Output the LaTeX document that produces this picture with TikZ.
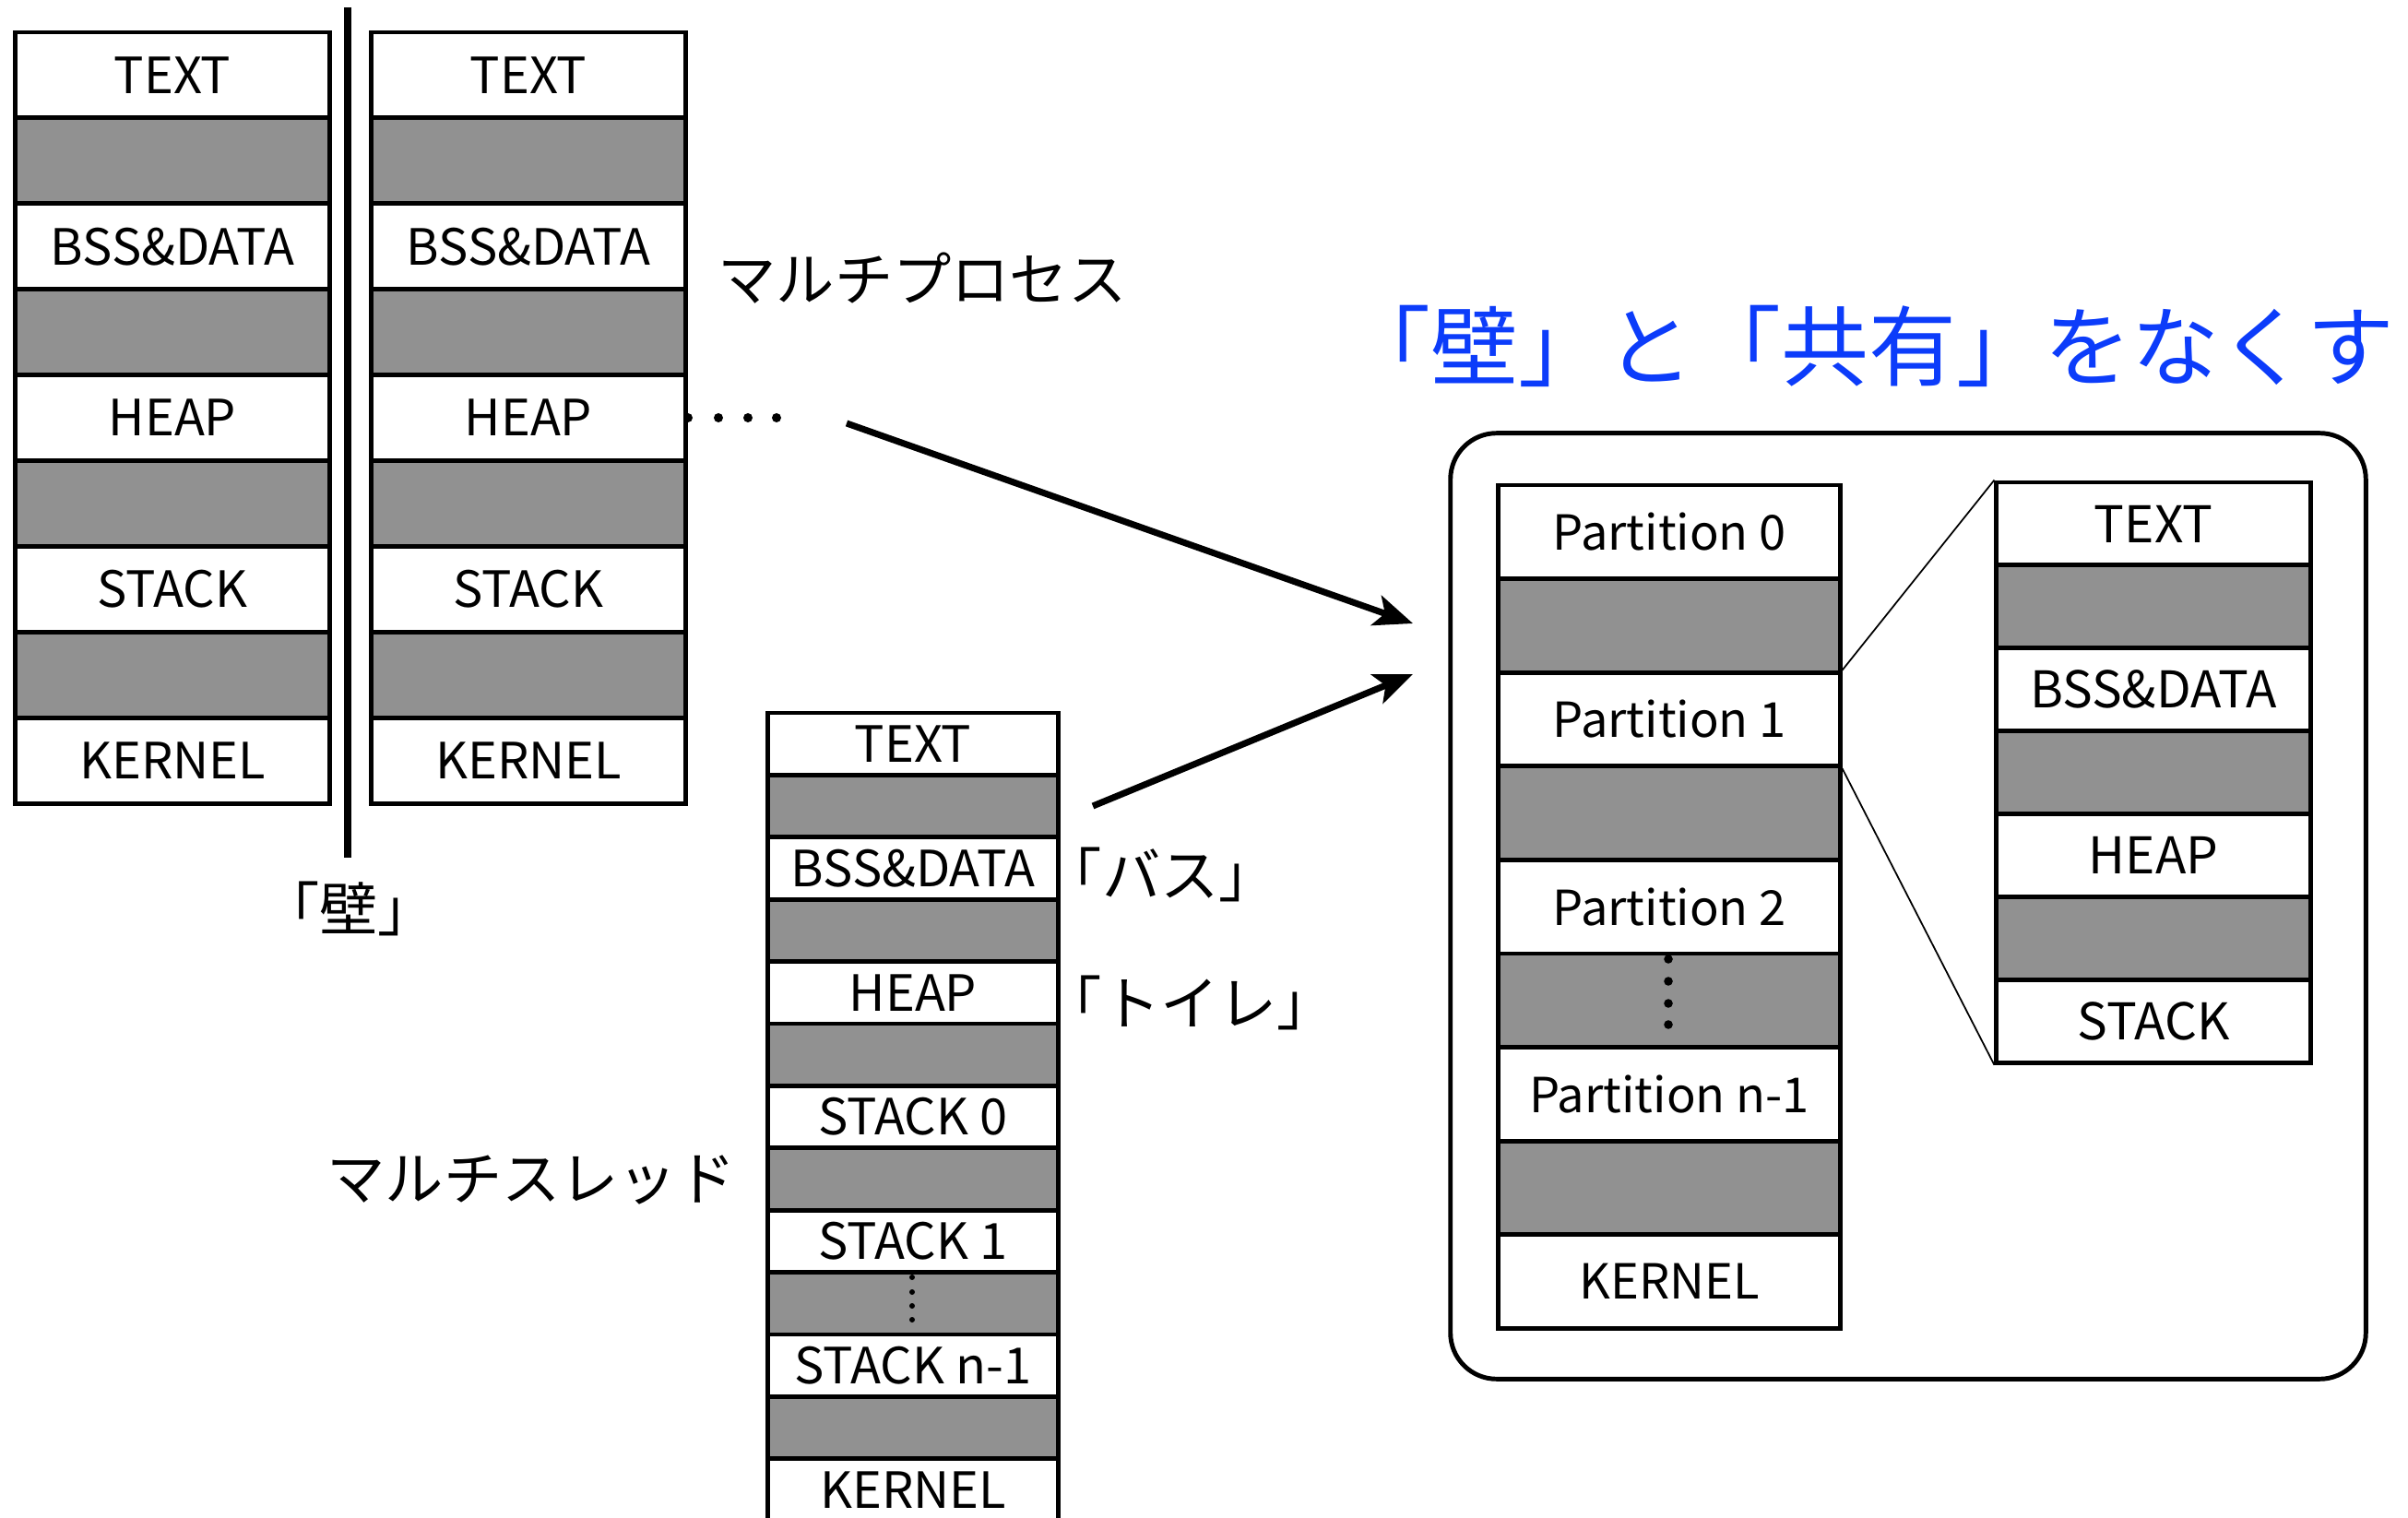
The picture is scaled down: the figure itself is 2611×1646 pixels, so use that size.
\documentclass[tikz,border=0pt]{standalone}
\usepackage{fontspec}
\setmainfont{Noto Sans CJK JP}
\usetikzlibrary{arrows.meta}
\definecolor{cgray}{RGB}{145,145,145}
\definecolor{cblue}{RGB}{12,60,250}
\begin{document}
\begin{tikzpicture}[x=0.01cm,y=-0.01cm,
  cell/.style={draw, line width=1.4pt, inner sep=0pt, anchor=center},
  lblfont/.style={font=\fontsize{18}{20}\selectfont},
  conn/.style={line width=2pt, -{Stealth[length=0.42cm,width=0.34cm,inset=0.1cm]}},
  zoomline/.style={line width=0.5pt},
  dotmark/.style={fill=black}]
\useasboundingbox (0,0) rectangle (2611,1646);

% outer rounded frame
\node[draw, line width=1.4pt, rounded corners=0.5cm, minimum width=9.92cm, minimum height=10.25cm, inner sep=0pt] (frame) at (2069,982.5) {};

% left stack 1
\foreach \lab [count=\i] in {TEXT,{},BSS\&DATA,{},HEAP,{},STACK,{},KERNEL}{
  \pgfmathsetmacro\yy{35+92.9*(\i-0.5)}
  \ifodd\i \def\ff{white}\else\def\ff{cgray}\fi
  \node[cell, fill=\ff, minimum width=3.4cm, minimum height=0.929cm, font=\fontsize{15.4}{17}\selectfont] (A\i) at (187,\yy) {\lab};
}
% left stack 2
\foreach \lab [count=\i] in {TEXT,{},BSS\&DATA,{},HEAP,{},STACK,{},KERNEL}{
  \pgfmathsetmacro\yy{35+92.9*(\i-0.5)}
  \ifodd\i \def\ff{white}\else\def\ff{cgray}\fi
  \node[cell, fill=\ff, minimum width=3.41cm, minimum height=0.929cm, font=\fontsize{15.4}{17}\selectfont] (B\i) at (573,\yy) {\lab};
}
% wall
\coordinate (wallTop) at (377,8);
\coordinate (wallBot) at (377,930);
\draw[line width=2.3pt] (wallTop) -- (wallBot);
\node[lblfont, inner sep=0pt] (wallLbl) at (378,985) {「壁」};

% dots after HEAP
\foreach \x in {746,779,811,842}{\fill[dotmark] (\x,453) circle (5);}

\node[lblfont, inner sep=0pt] (mproc) at (1000,302) {マルチプロセス};

% middle stack
\foreach \lab [count=\i] in {TEXT,{},BSS\&DATA,{},HEAP,{},STACK 0,{},STACK 1,{},STACK n-1,{},KERNEL}{
  \pgfmathsetmacro\yy{773+67.4*(\i-0.5)}
  \ifodd\i \def\ff{white}\else\def\ff{cgray}\fi
  \node[cell, fill=\ff, minimum width=3.14cm, minimum height=0.674cm, font=\fontsize{15.4}{17}\selectfont] (M\i) at (990,\yy) {\lab};
}
\foreach \y in {1385,1401,1416,1431}{\fill[dotmark] (989,\y) circle (3);}

\node[lblfont, inner sep=0pt, anchor=west] (bus) at (1131,948) {「バス」};
\node[lblfont, inner sep=0pt, anchor=west] (toilet) at (1131,1087) {「トイレ」};
\node[lblfont, inner sep=0pt] (mthr) at (576,1279) {マルチスレッド};

% title
\node[font=\fontsize{27}{30}\selectfont, text=cblue, inner sep=0pt, anchor=west] (title) at (1456,375) {「壁」と「共有」をなくす};

% partition stack
\foreach \lab [count=\i] in {Partition 0,{},Partition 1,{},Partition 2,{},Partition n-1,{},KERNEL}{
  \pgfmathsetmacro\yy{526+101.6*(\i-0.5)}
  \ifodd\i \def\ff{white}\else\def\ff{cgray}\fi
  \node[cell, fill=\ff, minimum width=3.7cm, minimum height=1.016cm, font=\fontsize{14.9}{17}\selectfont] (P\i) at (1810,\yy) {\lab};
}
\foreach \y in {1040,1064,1088,1111}{\fill[dotmark] (1809,\y) circle (4.8);}

% right zoomed stack
\foreach \lab [count=\i] in {TEXT,{},BSS\&DATA,{},HEAP,{},STACK}{
  \pgfmathsetmacro\yy{523+89.9*(\i-0.5)}
  \ifodd\i \def\ff{white}\else\def\ff{cgray}\fi
  \node[cell, fill=\ff, minimum width=3.4cm, minimum height=0.899cm, font=\fontsize{15.6}{17}\selectfont] (R\i) at (2335,\yy) {\lab};
}

% zoom lines
\draw[zoomline] (P3.north east) -- (R1.north west);
\draw[zoomline] (P3.south east) -- (R7.south west);

% arrows
\coordinate (a1s) at (918,459);
\coordinate (a1e) at (1532,676);
\coordinate (a2s) at (1185,874);
\coordinate (a2e) at (1532,731);
\draw[conn] (a1s) -- (a1e);
\draw[conn] (a2s) -- (a2e);
\end{tikzpicture}
\end{document}
